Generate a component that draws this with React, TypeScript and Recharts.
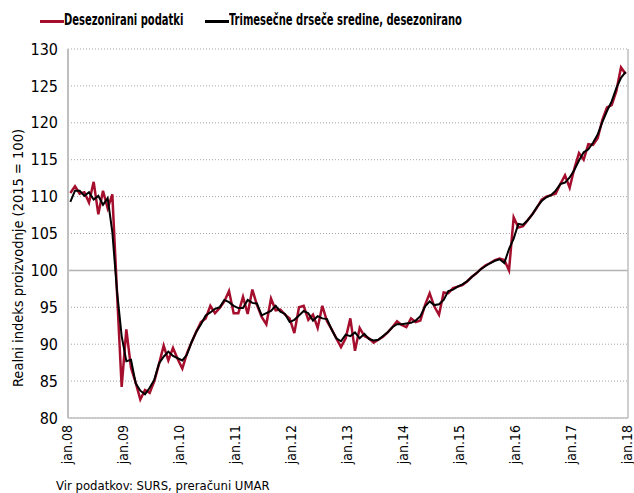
import { LineChart, Line, XAxis, YAxis, CartesianGrid, ReferenceLine } from "recharts";

const FONT = '"Liberation Sans Narrow", "Arial Narrow", "DejaVu Sans Condensed", sans-serif';

const tickLabels = ["jan.08", "jan.09", "jan.10", "jan.11", "jan.12", "jan.13", "jan.14", "jan.15", "jan.16", "jan.17", "jan.18"];
const yTicks = [80, 85, 90, 95, 100, 105, 110, 115, 120, 125, 130];

// Desezonirani podatki, jan.08 - dec.17
const desezonirani = [
  110.5, 111.4, 110.4, 110.6, 109.2, 112.0, 107.6, 110.8, 108.4, 110.3, 97.0, 84.2,
  92.0, 86.8, 84.8, 82.5, 83.8, 83.4, 85.0, 87.3, 89.8, 87.8, 89.5, 88.0,
  86.7, 88.8, 90.3, 91.7, 93.0, 93.5, 95.2, 94.2, 94.9, 95.8, 97.2, 94.2,
  94.2, 96.4, 94.1, 97.4, 95.3, 93.7, 92.7, 96.2, 94.6, 94.7, 94.0, 93.5,
  91.5, 95.0, 95.2, 93.3, 94.0, 92.2, 95.2, 93.1, 92.0, 90.8, 89.6, 90.8,
  93.5, 89.1, 92.2, 91.1, 90.8, 90.2, 90.6, 91.0, 91.6, 92.3, 93.1, 92.6,
  92.3, 93.5, 93.0, 93.2, 95.3, 96.9, 95.1, 94.0, 97.0, 96.9, 97.6, 97.8,
  98.0, 98.5, 99.1, 99.6, 100.2, 100.7, 101.0, 101.4, 101.6, 101.4, 100.0, 107.2,
  105.8, 106.0, 106.8, 107.6, 108.5, 109.6, 110.0, 110.2, 110.4, 111.7, 112.9, 111.2,
  113.8, 115.9, 115.0, 117.1, 117.0, 117.9, 120.4, 122.1, 122.4, 124.3, 127.5, 126.6,
];

// Trimesečne drseče sredine, desezonirano
const drsece = [
  109.3, 110.8, 110.8, 110.1, 110.6, 109.6, 110.1, 108.9, 109.8, 105.2, 97.2, 91.1,
  87.7, 87.9, 84.7, 83.7, 83.2, 84.1, 85.2, 87.4, 88.3, 89.0, 88.4, 88.1,
  87.8, 88.6, 90.3, 91.7, 92.7, 93.9, 94.3, 94.8, 95.0, 96.0, 95.7, 95.2,
  94.9, 94.9, 96.0, 95.6, 95.5, 93.9, 94.2, 94.5, 95.2, 94.4, 94.1, 93.0,
  93.3, 93.9, 94.5, 94.2, 93.2, 93.8, 93.5, 93.4, 92.0, 90.8, 90.4, 91.3,
  91.1, 91.6, 90.8, 91.4, 90.7, 90.5, 90.6, 91.1, 91.6, 92.3, 92.7, 92.7,
  92.8, 92.9, 93.2, 93.8, 95.1, 95.8, 95.3, 95.4, 96.0, 97.2, 97.4, 97.8,
  98.1, 98.5, 99.1, 99.6, 100.2, 100.6, 101.0, 101.3, 101.5, 101.0, 102.9, 104.3,
  106.3, 106.2, 106.8, 107.6, 108.6, 109.4, 109.9, 110.2, 110.8, 111.7, 111.9, 112.6,
  113.6, 114.9, 116.0, 116.4, 117.3, 118.4, 120.1, 121.6, 122.9, 124.7, 126.1, 126.9,
];

const data = desezonirani.map((v, i) => ({ m: i, desez: v, trimes: drsece[i] }));
const xTicks = tickLabels.map((_, k) => k * 12 - 0.5);

const XTick = (props: any) => {
  const { x, y, payload } = props;
  const k = Math.round((payload.value + 0.5) / 12);
  return (
    <text
      x={x}
      y={y}
      transform={`rotate(-90, ${x}, ${y})`}
      textAnchor="end"
      dy="0.25em"
      fill="#000"
      fontSize={14}
      fontFamily={FONT}
    >
      {tickLabels[k]}
    </text>
  );
};

const legendText = {
  position: "absolute" as const,
  display: "inline-block",
  transform: "scaleX(0.74)",
  transformOrigin: "left center",
};

export default function App() {
  return (
    <div style={{ position: "absolute", left: 0, top: 0, width: 634, height: 493, background: "#fff", fontFamily: FONT }}>
      <div style={{ position: "absolute", top: 11, left: 0, fontWeight: 700, fontSize: 15, color: "#000", whiteSpace: "nowrap" }}>
        <span style={{ position: "absolute", left: 40, top: 9, width: 24, height: 2.5, background: "#a50f2d" }} />
        <span style={{ ...legendText, left: 64 }}>Desezonirani podatki</span>
        <span style={{ position: "absolute", left: 205, top: 9, width: 24, height: 2.5, background: "#000" }} />
        <span style={{ ...legendText, left: 229 }}>Trimesečne drseče sredine, desezonirano</span>
      </div>
      <LineChart width={634} height={493} data={data} margin={{ top: 49, right: 6, bottom: 0, left: 0 }}>
        <CartesianGrid vertical={false} stroke="#a6a6a6" strokeDasharray="1 2" />
        <XAxis
          dataKey="m"
          type="number"
          domain={[-0.5, 119.5]}
          ticks={xTicks}
          interval={0}
          height={75}
          tickSize={0}
          tickMargin={7}
          tick={<XTick />}
          axisLine={{ stroke: "#bfbfbf", strokeWidth: 1.5 }}
          tickLine={false}
        />
        <YAxis
          type="number"
          domain={[80, 130]}
          ticks={yTicks}
          interval={0}
          width={68}
          tickSize={0}
          tickMargin={10}
          tick={{ fill: "#000", fontSize: 16, fontFamily: FONT }}
          axisLine={{ stroke: "#bfbfbf", strokeWidth: 2 }}
          tickLine={false}
        />
        <ReferenceLine y={100} stroke="#b3b3b3" strokeWidth={1.5} />
        <ReferenceLine x={119.5} stroke="#bfbfbf" strokeWidth={1.5} />
        <Line type="linear" dataKey="desez" stroke="#a50f2d" strokeWidth={2.5} dot={false} isAnimationActive={false} />
        <Line type="linear" dataKey="trimes" stroke="#000" strokeWidth={2} dot={false} isAnimationActive={false} />
      </LineChart>
      <div
        style={{
          position: "absolute",
          left: 18,
          top: 258,
          transform: "translate(-50%, -50%) rotate(-90deg)",
          fontSize: 14.5,
          whiteSpace: "nowrap",
          color: "#000",
        }}
      >
        Realni indeks proizvodnje (2015 = 100)
      </div>
      <div style={{ position: "absolute", left: 56, top: 478, fontSize: 13, color: "#000", whiteSpace: "nowrap" }}>
        Vir podatkov: SURS, preračuni UMAR
      </div>
    </div>
  );
}
